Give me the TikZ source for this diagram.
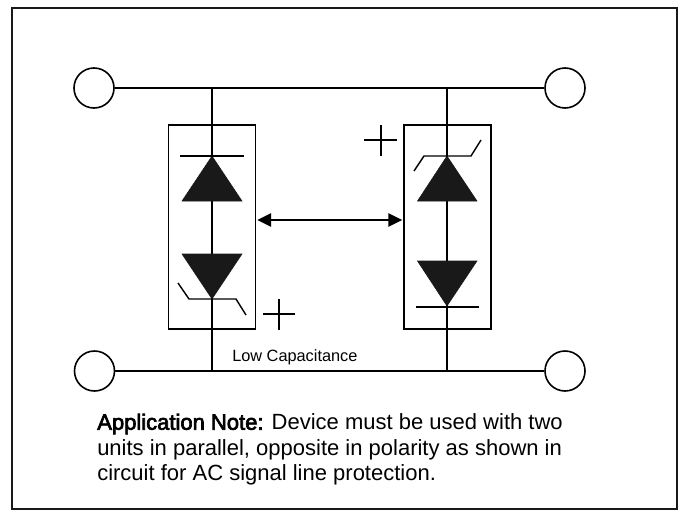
\documentclass[tikz,border=0pt]{standalone}
\usepackage{fontspec}
\setmainfont{Liberation Sans}
\newfontfamily\fauxbold[FakeBold=3]{Liberation Sans}
\usetikzlibrary{arrows.meta}
\tikzset{
  wire/.style={line width=1.2pt,draw=black},
  thin wire/.style={line width=1.05pt,draw=black},
  terminal/.style={circle,draw=black,line width=1.2pt,fill=white,minimum size=30pt,inner sep=0pt},
  diode/.style={fill=black!90,draw=black!90,line width=0.4pt,line join=miter},
  polarity/.style={line width=1.05pt,draw=black},
  devbox/.style={draw=black,line width=1.2pt,minimum width=65pt,minimum height=153pt,inner sep=0pt},
  note/.style={anchor=north west,align=left,inner sep=0pt,font=\fontsize{16.5}{19.1}\selectfont},
}
\begin{document}
\begin{tikzpicture}[x=0.75pt,y=-0.75pt]
\useasboundingbox (0,0) rectangle (682,518);
\draw[line width=1.6pt,draw=black!90] (12,8) rectangle (677,509);
% terminals
\node[terminal] (tl) at (94,88) {};
\node[terminal] (tr) at (565,88) {};
\node[terminal] (bl) at (94.5,371) {};
\node[terminal] (br) at (565,371) {};
\draw[wire] (tl) -- (tr);
\draw[wire] (bl) -- (br);
% junctions
\coordinate (jtl) at (212,88);
\coordinate (jbl) at (212,370.5);
\coordinate (jtr) at (447,88);
\coordinate (jbr) at (447,370.5);
% device boxes
\node[devbox] (boxl) at (212,227) {};
\node[devbox] (boxr) at (447.5,227) {};
\draw[wire] (jtl) -- (jbl);
\draw[wire] (jtr) -- (jbr);
% left device
\fill[diode] (212,156) -- (182,201) -- (242,201) -- cycle;
\draw[thin wire] (180,156) -- (244,156);
\fill[diode] (212,299) -- (182,254) -- (242,254) -- cycle;
\draw[thin wire] (178,283) -- (189,299) -- (236,299) -- (246,315);
% right device
\fill[diode] (447,156) -- (417.5,201) -- (477,201) -- cycle;
\draw[thin wire] (414,171) -- (424,156) -- (471,156) -- (481,140);
\fill[diode] (447,306) -- (417.5,261) -- (477,261) -- cycle;
\draw[thin wire] (416,307) -- (479,307);
% polarity marks
\draw[polarity] (263,314) -- (295,314) (279,299) -- (279,330);
\draw[polarity] (364,140) -- (397,140) (381,125) -- (381,156);
% arrow
\coordinate (al) at (boxl.east |- 0,220);
\coordinate (ar) at (boxr.west |- 0,220);
\draw[wire,{Triangle[length=10.5pt,width=10pt]}-{Triangle[length=10.5pt,width=10pt]},shorten <=0.8pt,shorten >=0.8pt] (al) -- (ar);
% text
\node[anchor=base west,inner sep=0pt,font=\fontsize{12.24}{14}\selectfont] (lc) at (232,361) {Low Capacitance};
\node[note] (nt) at (97,413.5) {{\fauxbold Application Note:} Device must be used with two\\units in parallel, opposite in polarity as shown in\\circuit for AC signal line protection.};
\end{tikzpicture}
\end{document}
